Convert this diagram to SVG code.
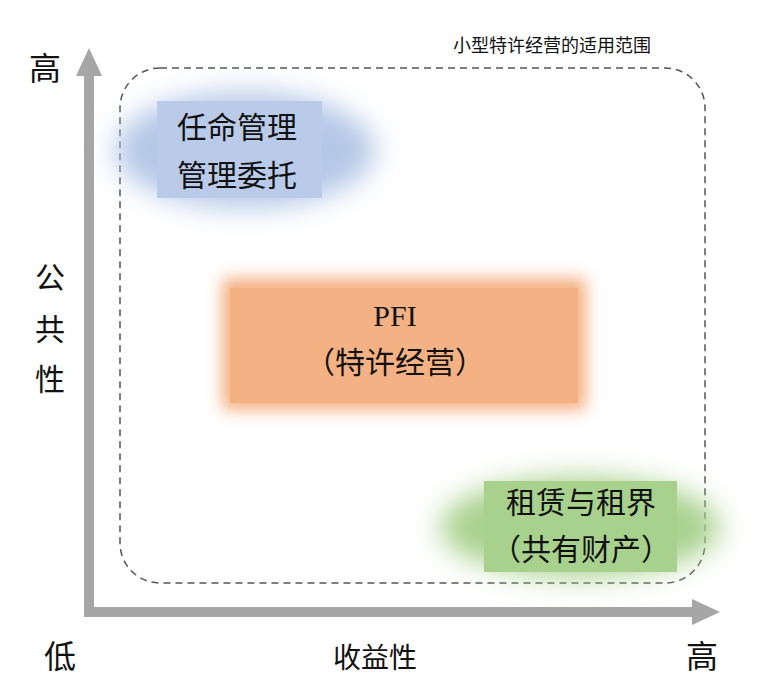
<svg xmlns="http://www.w3.org/2000/svg" width="775" height="693" viewBox="0 0 775 693">
<defs>
<filter id="b1" x="-50%" y="-50%" width="200%" height="200%"><feGaussianBlur stdDeviation="14"/></filter>
<filter id="b2" x="-50%" y="-50%" width="200%" height="200%"><feGaussianBlur stdDeviation="8"/></filter>
<style>
text{font-family:"Noto Sans CJK SC","Liberation Sans",sans-serif;fill:#111;}
.big{font-size:32px;}
.lbl{font-size:30px;}
.serif{font-family:"Liberation Serif","Noto Sans CJK SC",serif;}
</style>
</defs>
<rect width="775" height="693" fill="#fff"/>
<g id="axes" fill="#a6a6a6">
<rect x="84" y="72" width="10" height="545"/>
<polygon points="89,48 76,76 102,76"/>
<rect x="84" y="607" width="610" height="10"/>
<polygon points="720,612 692,599 692,625"/>
</g>
<g id="scope">
<rect x="120" y="68" width="585" height="515" rx="40" fill="none" stroke="#555" stroke-width="1.5" stroke-dasharray="7,5"/>
<text x="552" y="52" font-size="18" text-anchor="middle">小型特许经营的适用范围</text>
</g>
<g id="n1">
<ellipse cx="245" cy="150" rx="130" ry="58" fill="#b4c7e7" filter="url(#b1)"/>
<rect x="157" y="101" width="165" height="97" fill="#b9cbe9"/>
<text x="237" y="138" class="lbl" text-anchor="middle">任命管理</text>
<text x="237" y="186" class="lbl" text-anchor="middle">管理委托</text>
</g>
<g id="n2">
<rect x="222" y="278" width="364" height="132" fill="#f4b183" filter="url(#b2)"/>
<rect x="230" y="288" width="348" height="115" fill="#f4b183"/>
<text x="395" y="326" font-size="30" class="serif" text-anchor="middle">PFI</text>
<text x="395" y="373" class="lbl" text-anchor="middle">（特许经营）</text>
</g>
<g id="n3">
<ellipse cx="580" cy="527" rx="140" ry="50" fill="#a9d18e" filter="url(#b1)"/>
<rect x="484" y="481" width="193" height="91" fill="#a9d18e"/>
<text x="581" y="513" class="lbl" text-anchor="middle">租赁与租界</text>
<text x="581" y="560" class="lbl" text-anchor="middle">（共有财产）</text>
</g>
<g id="labels">
<text x="45" y="80" class="big" text-anchor="middle">高</text>
<text x="60" y="668" class="big" text-anchor="middle">低</text>
<text x="702" y="668" class="big" text-anchor="middle">高</text>
<text x="50" y="288" class="lbl" text-anchor="middle">公</text>
<text x="50" y="340" class="lbl" text-anchor="middle">共</text>
<text x="50" y="390" class="lbl" text-anchor="middle">性</text>
<text x="375" y="668" font-size="28" text-anchor="middle">收益性</text>
</g>
</svg>
